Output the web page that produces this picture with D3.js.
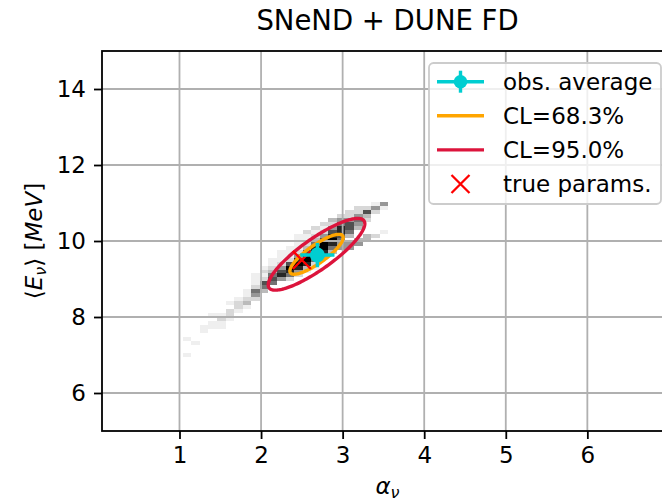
<!DOCTYPE html>
<html>
<head>
<meta charset="utf-8">
<script src="https://cdn.jsdelivr.net/npm/d3@7"></script>
<style>
  body { margin: 0; background: #fff; }
  svg { display: block; font-family: "DejaVu Sans", sans-serif; }
</style>
</head>
<body>
<svg id="chart" width="662" height="501"></svg>
<script>
// ---- data -------------------------------------------------------------
const chartTitle = "SNeND + DUNE FD";
const alphaTicks = [1, 2, 3, 4, 5, 6];
const energyTicks = [6, 8, 10, 12, 14];
const alphaRange = [0.05, 7.05];
const energyRange = [5, 15];

// 2D histogram of fitted (alpha, <E>) pairs: bin grid and filled bins [alphaBin, energyBin, count]
const alphaBinStart = 1.04, alphaBinWidth = 0.105;
const energyBinStart = 6.94, energyBinWidth = 0.105;
const histMaxCount = 8;
const histCounts = [
  [0,0,1],[0,4,1],
  [1,3,1],
  [2,6,1],[2,7,1],
  [3,7,1],[3,8,1],[3,10,1],
  [4,7,1],[4,8,1],[4,9,2],[4,10,1],
  [5,9,1],[5,10,2],[5,11,2],[5,13,1],
  [6,11,1],[6,12,2],[6,13,2],[6,14,1],
  [7,12,1],[7,13,3],[7,14,2],[7,15,1],[7,16,1],
  [8,14,2],[8,15,4],[8,16,5],[8,17,2],[8,18,1],[8,19,1],[8,20,1],
  [9,16,3],[9,17,5],[9,18,6],[9,19,2],[9,20,1],[9,21,2],[9,22,1],
  [10,18,5],[10,19,6],[10,20,5],[10,21,3],[10,22,2],[10,23,1],[10,24,1],
  [11,19,4],[11,20,7],[11,21,6],[11,22,4],[11,23,2],[11,24,1],[11,25,1],[11,26,1],
  [12,19,2],[12,20,5],[12,21,7],[12,22,8],[12,23,6],[12,24,2],[12,25,1],[12,26,1],[12,27,1],
  [13,20,2],[13,21,4],[13,22,7],[13,23,8],[13,24,7],[13,25,4],[13,26,2],[13,27,1],[13,28,1],[13,29,1],[13,30,1],
  [14,21,1],[14,22,3],[14,23,7],[14,24,8],[14,25,8],[14,26,6],[14,27,3],[14,28,2],[14,29,1],[14,30,1],[14,31,2],
  [15,22,1],[15,23,2],[15,24,5],[15,25,8],[15,26,8],[15,27,7],[15,28,5],[15,29,3],[15,30,2],[15,31,1],[15,32,2],
  [16,25,4],[16,26,7],[16,27,8],[16,28,8],[16,29,6],[16,30,4],[16,31,2],[16,32,1],[16,33,2],
  [17,26,3],[17,27,5],[17,28,7],[17,29,8],[17,30,7],[17,31,6],[17,32,4],[17,33,2],[17,34,3],
  [18,27,4],[18,28,4],[18,29,5],[18,30,6],[18,31,7],[18,32,7],[18,33,5],[18,34,4],[18,35,2],
  [19,27,4],[19,28,4],[19,30,3],[19,31,5],[19,32,6],[19,33,6],[19,34,4],[19,35,2],[19,36,2],
  [20,28,4],[20,29,3],[20,32,3],[20,33,4],[20,34,5],[20,35,4],[20,36,2],[20,37,2],
  [21,29,3],[21,30,3],[21,34,2],[21,35,3],[21,36,6],[21,37,2],
  [22,30,2],[22,36,2],[22,37,4],[22,38,1],
  [23,31,1],[23,37,1],[23,38,4]
];

// confidence-level contours: centre, half-widths along each axis and correlation
const fitCentre = [2.68, 9.65];
const clLabels = ["CL=68.3%", "CL=95.0%"];
const clSigmaAlpha = [0.327, 0.592];
const clSigmaEnergy = [0.525, 0.944];
const clCorrelation = [0.839, 0.853];

const obsAverage = [2.69, 9.63];
const obsAverageErr = [0.21, 0.32];
const trueParams = [2.5, 9.5];
const legendLabels = ["obs. average", "CL=68.3%", "CL=95.0%", "true params."];

// ---- layout & styles --------------------------------------------------
const plot = { left: 102, top: 51, right: 673, bottom: 431 };
const fontSize = 23;
const cyan = "#00ced1", orange = "#ffa500", crimson = "#dc143c", red = "#ff0000";
const clColors = [orange, crimson];
const lineW = 3.4;

const svg = d3.select("#chart");
const x = d3.scaleLinear().domain(alphaRange).range([plot.left, plot.right]);
const y = d3.scaleLinear().domain(energyRange).range([plot.bottom, plot.top]);

svg.append("defs").append("clipPath").attr("id", "plotClip")
  .append("rect")
  .attr("x", plot.left).attr("y", plot.top)
  .attr("width", plot.right - plot.left).attr("height", plot.bottom - plot.top);

const inner = svg.append("g").attr("clip-path", "url(#plotClip)");

// histogram cells
const grey = d3.scaleSequential(d3.interpolateGreys).domain([0, histMaxCount]);
inner.append("g").selectAll("rect").data(histCounts).join("rect")
  .attr("x", d => x(alphaBinStart + d[0] * alphaBinWidth))
  .attr("width", d => x(alphaBinStart + (d[0] + 1) * alphaBinWidth) - x(alphaBinStart + d[0] * alphaBinWidth))
  .attr("y", d => y(energyBinStart + (d[1] + 1) * energyBinWidth))
  .attr("height", d => y(energyBinStart + d[1] * energyBinWidth) - y(energyBinStart + (d[1] + 1) * energyBinWidth))
  .attr("fill", d => grey(d[2]))
  .attr("shape-rendering", "crispEdges");

// grid
const grid = inner.append("g").attr("stroke", "#b0b0b0").attr("stroke-width", 1.8);
grid.selectAll("line.gx").data(alphaTicks).join("line").attr("class", "gx")
  .attr("x1", d => x(d)).attr("x2", d => x(d))
  .attr("y1", plot.top).attr("y2", plot.bottom);
grid.selectAll("line.gy").data(energyTicks).join("line").attr("class", "gy")
  .attr("y1", d => y(d)).attr("y2", d => y(d))
  .attr("x1", plot.left).attr("x2", plot.right);

// confidence ellipses
const angles = d3.range(0, 361, 2).map(a => a * Math.PI / 180);
const line = d3.line().x(p => x(p[0])).y(p => y(p[1])).curve(d3.curveLinearClosed);
clLabels.forEach((lab, k) => {
  const sa = clSigmaAlpha[k], se = clSigmaEnergy[k], r = clCorrelation[k];
  const pts = angles.map(t => [
    fitCentre[0] + sa * Math.cos(t),
    fitCentre[1] + se * (r * Math.cos(t) + Math.sqrt(1 - r * r) * Math.sin(t))
  ]);
  inner.append("path").attr("d", line(pts))
    .attr("fill", "none").attr("stroke", clColors[k]).attr("stroke-width", lineW);
});

// true parameters
function xMarker(g, cx, cy, h) {
  g.append("path")
    .attr("d", `M${cx - h},${cy - h}L${cx + h},${cy + h}M${cx - h},${cy + h}L${cx + h},${cy - h}`)
    .attr("stroke", red).attr("stroke-width", 2.3).attr("fill", "none");
}
xMarker(inner, x(trueParams[0]), y(trueParams[1]), 9);

// observed average with error bars
const obs = inner.append("g").attr("stroke", cyan).attr("stroke-width", lineW);
obs.append("line")
  .attr("x1", x(obsAverage[0] - obsAverageErr[0])).attr("x2", x(obsAverage[0] + obsAverageErr[0]))
  .attr("y1", y(obsAverage[1])).attr("y2", y(obsAverage[1]));
obs.append("line")
  .attr("x1", x(obsAverage[0])).attr("x2", x(obsAverage[0]))
  .attr("y1", y(obsAverage[1] - obsAverageErr[1])).attr("y2", y(obsAverage[1] + obsAverageErr[1]));
obs.append("circle").attr("cx", x(obsAverage[0])).attr("cy", y(obsAverage[1]))
  .attr("r", 7.5).attr("fill", cyan).attr("stroke", "none");

// axes
const xAxis = svg.append("g").attr("transform", `translate(0,${plot.bottom})`)
  .call(d3.axisBottom(x).tickValues(alphaTicks).tickFormat(d3.format("d"))
    .tickSizeInner(8).tickSizeOuter(0).tickPadding(8));
const yAxis = svg.append("g").attr("transform", `translate(${plot.left},0)`)
  .call(d3.axisLeft(y).tickValues(energyTicks).tickFormat(d3.format("d"))
    .tickSizeInner(8).tickSizeOuter(0).tickPadding(8));
[xAxis, yAxis].forEach(a => {
  a.select(".domain").remove();
  a.selectAll(".tick line").attr("stroke", "#000").attr("stroke-width", 1.8);
  a.selectAll(".tick text").attr("font-size", fontSize).attr("fill", "#000")
    .attr("font-family", "DejaVu Sans");
});

// spines
svg.append("rect")
  .attr("x", plot.left).attr("y", plot.top)
  .attr("width", plot.right - plot.left).attr("height", plot.bottom - plot.top)
  .attr("fill", "none").attr("stroke", "#000").attr("stroke-width", 1.8);

// title
svg.append("text").attr("x", (plot.left + plot.right) / 2).attr("y", 30)
  .attr("text-anchor", "middle").attr("font-size", 27.5).text(chartTitle);

// axis labels
const xl = svg.append("text").attr("x", (plot.left + plot.right) / 2).attr("y", 494)
  .attr("text-anchor", "middle").attr("font-size", fontSize);
xl.append("tspan").attr("font-style", "italic").text("α");
xl.append("tspan").attr("font-style", "italic").attr("font-size", 16).attr("dy", 4).text("ν");

const yl = svg.append("text")
  .attr("transform", `translate(42,${(plot.top + plot.bottom) / 2}) rotate(-90)`)
  .attr("text-anchor", "middle").attr("font-size", fontSize);
yl.append("tspan").text("⟨");
yl.append("tspan").attr("font-style", "italic").text("E");
yl.append("tspan").attr("font-style", "italic").attr("font-size", 16).attr("dy", 4).text("ν");
yl.append("tspan").attr("dy", -4).text("⟩ [");
yl.append("tspan").attr("font-style", "italic").text("MeV");
yl.append("tspan").text("]");

// legend
const lg = svg.append("g");
lg.append("rect").attr("x", 429).attr("y", 63).attr("width", 232).attr("height", 141)
  .attr("rx", 4.5).attr("fill", "#fff").attr("fill-opacity", 0.8)
  .attr("stroke", "#cccccc").attr("stroke-width", 1.8);
const rowY = i => 81.7 + i * 34.1;
const hx0 = 437, hx1 = 484, hxc = (hx0 + hx1) / 2;
// errorbar handle
const h0 = lg.append("g").attr("stroke", cyan).attr("stroke-width", lineW);
h0.append("line").attr("x1", hx0).attr("x2", hx1).attr("y1", rowY(0)).attr("y2", rowY(0));
h0.append("line").attr("x1", hxc).attr("x2", hxc).attr("y1", rowY(0) - 11).attr("y2", rowY(0) + 11);
h0.append("circle").attr("cx", hxc).attr("cy", rowY(0)).attr("r", 6.8).attr("fill", cyan).attr("stroke", "none");
// contour handles
clColors.forEach((c, k) => {
  lg.append("line").attr("x1", hx0).attr("x2", hx1)
    .attr("y1", rowY(k + 1)).attr("y2", rowY(k + 1))
    .attr("stroke", c).attr("stroke-width", lineW);
});
xMarker(lg, hxc, rowY(3), 9);
lg.selectAll("text.lab").data(legendLabels).join("text").attr("class", "lab")
  .attr("x", 503).attr("y", (d, i) => rowY(i) + 8.3)
  .attr("font-size", fontSize).text(d => d);
</script>
</body>
</html>
